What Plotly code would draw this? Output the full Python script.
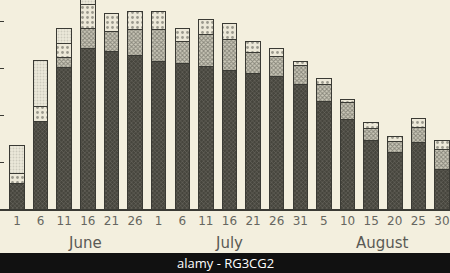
import plotly.graph_objects as go

# ---- data ----
day_labels = ["1", "6", "11", "16", "21", "26",
              "1", "6", "11", "16", "21", "26", "31",
              "5", "10", "15", "20", "25", "30"]
months = ["June", "July", "August"]
month_pos = [2.87, 8.98, 15.46]

dark = [5.5, 18.6, 30.3, 34.3, 33.6, 32.7, 31.6, 31.1, 30.4, 29.6, 29.0, 28.4, 26.7,
        22.9, 19.2, 14.7, 12.1, 14.2, 8.5]
cross = [0.0, 0.0, 2.1, 4.3, 4.3, 5.7, 6.8, 4.8, 6.9, 6.6, 4.5, 4.1, 3.9,
         3.7, 3.5, 2.6, 2.4, 3.3, 4.3]
dotted = [2.0, 3.3, 2.9, 5.2, 3.8, 3.9, 3.9, 2.7, 3.2, 3.4, 2.3, 1.8, 1.0,
          1.3, 0.8, 1.2, 1.1, 1.9, 1.9]
light = [6.0, 9.9, 3.3, 1.3, 0, 0, 0, 0, 0, 0, 0, 0, 0,
         0, 0, 0, 0, 0, 0]

BG = "rgb(243,239,222)"
x = list(range(len(day_labels)))

fig = go.Figure()
styles = [
    (dark, dict(shape="x", bgcolor="#46453d", fgcolor="#a09e92", size=3, solidity=0.3)),
    (cross, dict(shape="x", bgcolor="#cbc8b9", fgcolor="#46453e", size=3, solidity=0.55)),
    (dotted, dict(shape=".", bgcolor="#ece8d8", fgcolor="#4a4942", size=5, solidity=0.25)),
    (light, dict(shape=".", bgcolor="#ebe8da", fgcolor="#b0ada0", size=3, solidity=0.3)),
]
for vals, pat in styles:
    fig.add_trace(go.Bar(
        x=x, y=vals,
        marker=dict(color=pat["bgcolor"], pattern=pat,
                    line=dict(color="#3a3a34", width=1)),
        hoverinfo="skip", showlegend=False,
    ))

annotations = []
for m, p in zip(months, month_pos):
    annotations.append(dict(x=p, y=-0.163, xref="x", yref="paper", text=m,
                            showarrow=False, yanchor="middle", xanchor="center",
                            font=dict(family="DejaVu Sans", size=15, color="#5a5a55")))
annotations.append(dict(x=0.5, y=-0.258, xref="paper", yref="paper",
                        text="alamy - RG3CG2", showarrow=False,
                        yanchor="middle", xanchor="center",
                        font=dict(family="Open Sans", size=13, color="white")))

fig.update_layout(
    width=450, height=273,
    margin=dict(l=0, r=0, t=0, b=64),
    paper_bgcolor=BG, plot_bgcolor=BG,
    barmode="stack", bargap=0.386,
    xaxis=dict(range=[-0.72, 18.34], tickmode="array", tickvals=x,
               ticktext=day_labels, showline=True, linecolor="#3a3a34",
               linewidth=1.5, ticks="", showgrid=False, zeroline=False,
               tickfont=dict(family="DejaVu Sans", size=12, color="#666660")),
    yaxis=dict(range=[0, 44.66], tickvals=[0, 10, 20, 30, 40], showticklabels=False,
               ticks="inside", ticklen=4, tickcolor="#3a3a34", showline=True,
               linecolor="#3a3a34", linewidth=1, showgrid=False, zeroline=False),
    shapes=[dict(type="rect", xref="paper", yref="paper", x0=0, x1=1,
                 y0=-0.306, y1=-0.2105, fillcolor="#111111", line=dict(width=0))],
    annotations=annotations,
)

fig.write_html("out.html")
